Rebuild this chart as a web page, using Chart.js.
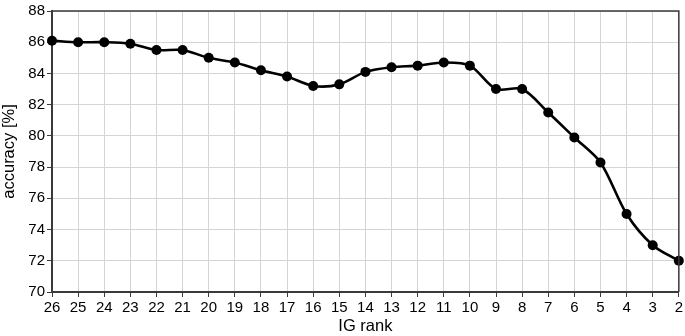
<!DOCTYPE html>
<html>
<head>
<meta charset="utf-8">
<script src="https://cdn.jsdelivr.net/npm/chart.js@4"></script>
<style>
  html, body { margin: 0; padding: 0; background: #fff; }
  #wrap { width: 685px; height: 336px; }
</style>
</head>
<body>
<div id="wrap"><canvas id="accChart"></canvas></div>
<script>
// datos
const igRanks = ['26', '25', '24', '23', '22', '21', '20', '19', '18', '17', '16', '15', '14',
                 '13', '12', '11', '10', '9', '8', '7', '6', '5', '4', '3', '2'];
const accuracy = [86.1, 86.0, 86.0, 85.9, 85.5, 85.5, 85.0, 84.7, 84.2, 83.8, 83.2, 83.3, 84.1,
                  84.4, 84.5, 84.7, 84.5, 83.0, 83.0, 81.5, 79.9, 78.3, 75.0, 73.0, 72.0];
const yTicks = [70, 72, 74, 76, 78, 80, 82, 84, 86, 88];

const axisColor = '#3a3a3a';
const gridColor = '#d4d4d4';
const fontFamily = '"Liberation Sans", Arial, sans-serif';

// marco superior y derecho del area de trazado
const framePlugin = {
    id: 'frame',
    afterDraw(chart) {
        const a = chart.chartArea;
        const ctx = chart.ctx;
        ctx.save();
        ctx.strokeStyle = axisColor;
        ctx.lineWidth = 1.5;
        ctx.beginPath();
        ctx.moveTo(a.left, a.top);
        ctx.lineTo(a.right, a.top);
        ctx.lineTo(a.right, a.bottom);
        ctx.stroke();
        ctx.restore();
    }
};

const ctx = document.getElementById('accChart').getContext('2d');
new Chart(ctx, {
    type: 'line',
    data: {
        labels: igRanks,
        datasets: [{
            data: accuracy,
            borderColor: '#000',
            backgroundColor: '#000',
            borderWidth: 2.6,
            pointRadius: 5,
            pointBackgroundColor: '#000',
            pointBorderWidth: 0,
            tension: 0.3,
            clip: false
        }]
    },
    options: {
        responsive: true,
        maintainAspectRatio: false,
        animation: false,
        layout: { padding: { top: 7.5, right: 6, left: 0, bottom: 0 } },
        plugins: {
            legend: { display: false },
            tooltip: { enabled: false }
        },
        scales: {
            x: {
                offset: false,
                grid: { color: gridColor, tickColor: axisColor, tickLength: 5 },
                border: { color: axisColor, width: 2 },
                ticks: { color: '#000', font: { family: fontFamily, size: 15 }, maxRotation: 0, autoSkip: false, padding: 2 },
                title: { display: true, text: 'IG rank', color: '#000', font: { family: fontFamily, size: 16.5 }, padding: { top: 0, bottom: 0 } },
                afterFit(scale) { scale.height = 44; }
            },
            y: {
                min: 70,
                max: 88,
                afterBuildTicks(scale) { scale.ticks = yTicks.map(v => ({ value: v })); },
                grid: { color: gridColor, tickColor: axisColor, tickLength: 5 },
                border: { color: axisColor, width: 2 },
                ticks: { color: '#000', font: { family: fontFamily, size: 15 }, padding: 2 },
                title: { display: true, text: 'accuracy [%]', color: '#000', font: { family: fontFamily, size: 16.5 }, padding: { top: 0, bottom: 1 } },
                afterFit(scale) { scale.width = 52; }
            }
        }
    },
    plugins: [framePlugin]
});
</script>
</body>
</html>
